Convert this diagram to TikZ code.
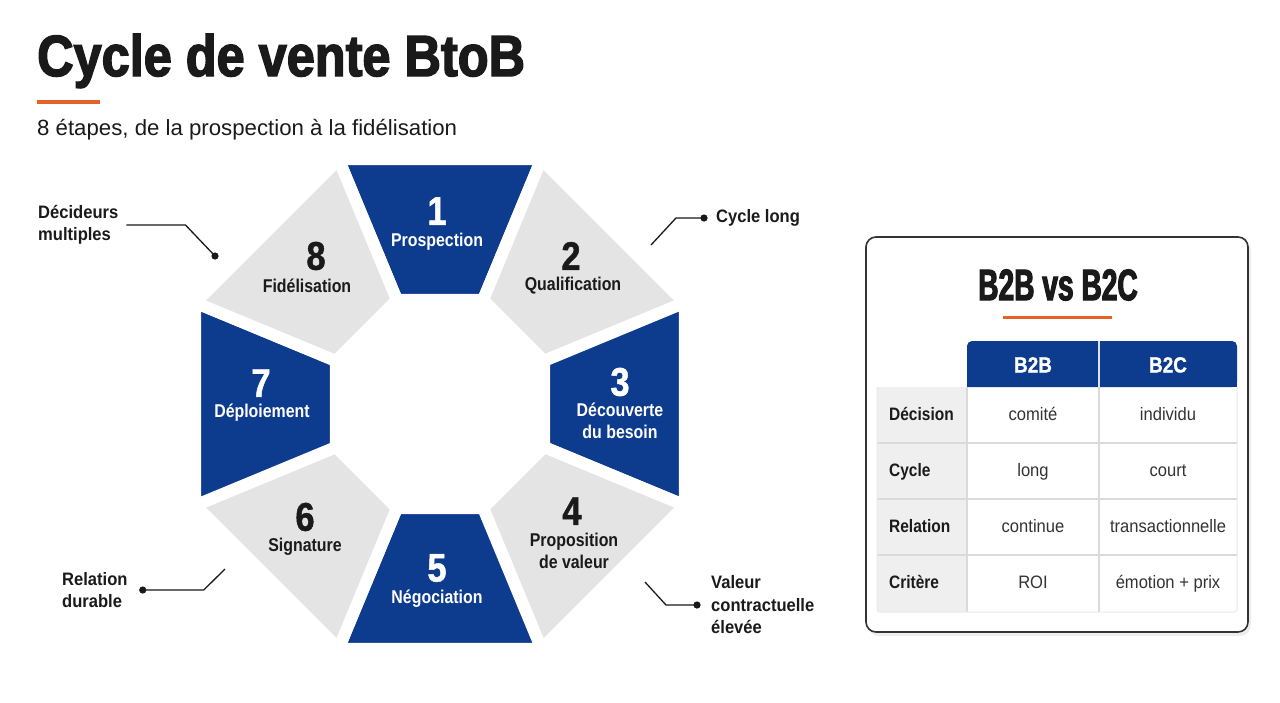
\documentclass[tikz,border=0pt]{standalone}
\usepackage{fontspec}
\setmainfont{Liberation Sans}
\newfontfamily\heavy[FakeStretch=0.87,FakeBold=2.5]{Liberation Sans}
\newfontfamily\heavyc[FakeStretch=0.64,FakeBold=2.5]{Liberation Sans}
\newfontfamily\cond[FakeStretch=0.86]{Liberation Sans}
\newfontfamily\condh[FakeStretch=0.86,FakeBold=1.2]{Liberation Sans}
\newfontfamily\reg[FakeStretch=0.92]{Liberation Sans}
\newfontfamily\subf[FakeStretch=1.01]{Liberation Sans}
\definecolor{navy}{HTML}{0D3B8D}
\definecolor{lgray}{HTML}{E4E4E4}
\definecolor{orng}{HTML}{E2642B}
\definecolor{ink}{HTML}{1A1A1A}
\definecolor{txt}{HTML}{333333}
\definecolor{grid}{HTML}{DADADA}
\definecolor{lab}{HTML}{EFEFEF}
\tikzset{
  seg/.style={fill=#1, draw=white, line width=12pt, rounded corners=2pt},
  num/.style={inner sep=0, font=\fontsize{40}{40}\selectfont\condh\bfseries, text=#1},
  slab/.style={inner sep=0, align=center, font=\fontsize{18.5}{22}\selectfont\cond\bfseries, text=#1},
  callout/.style={draw=ink, line width=1.3pt},
  dot/.style={fill=ink},
  note/.style={inner sep=0, anchor=west, align=left, text=ink, font=\fontsize{18}{22.5}\selectfont\reg\bfseries},
  rowlab/.style={inner sep=0, anchor=west, text height=13pt, text depth=4pt, text=ink, font=\fontsize{18}{20}\selectfont\cond\bfseries},
  cell/.style={inner sep=0, text height=13pt, text depth=4pt, text=txt, font=\fontsize{18}{20}\selectfont\reg},
  head/.style={inner sep=0, text height=15pt, text depth=0pt, text=white, font=\fontsize{22}{24}\selectfont\condh\bfseries}
}
\begin{document}
\begin{tikzpicture}[x=1pt,y=-1pt]
\useasboundingbox (0,0) rectangle (1280,702);
\fill[white] (0,0) rectangle (1280,702);

% Title
\node[anchor=base west, inner sep=0, text=ink] (title) at (37,76) {\fontsize{58}{60}\selectfont\heavy\bfseries Cycle de vente BtoB};
\fill[orng] (37,99.5) rectangle (100,103.5);
\node[anchor=base west, inner sep=0, text=ink] (sub) at (37,135) {\fontsize{22}{24}\selectfont\subf 8 étapes, de la prospection à la fidélisation};

% Octagon ring
\begin{scope}[shift={(440,404)}]
\foreach \ang/\col in {-90/navy, -45/lgray, 0/navy, 45/lgray, 90/navy, 135/lgray, 180/navy, 225/lgray}{
  \path[seg=\col] (\ang-22.5:265) -- (\ang+22.5:265) -- (\ang+22.5:112.6) -- (\ang-22.5:112.6) -- cycle;
}
\end{scope}

% Segment texts
\node[num=white] (n1) at (437,211) {1};
\node[slab=white] (l1) at (437,242) {Prospection};
\node[num=ink] (n2) at (571,256) {2};
\node[slab=ink] (l2) at (573,286) {Qualification};
\node[num=white] (n3) at (620,382) {3};
\node[slab=white] (l3) at (620,421) {Découverte\\du besoin};
\node[num=ink] (n4) at (572,511) {4};
\node[slab=ink] (l4) at (574,551) {Proposition\\de valeur};
\node[num=white] (n5) at (437,568) {5};
\node[slab=white] (l5) at (437,599) {Négociation};
\node[num=ink] (n6) at (305,517) {6};
\node[slab=ink] (l6) at (305,547) {Signature};
\node[num=white] (n7) at (261,383) {7};
\node[slab=white] (l7) at (262,413) {Déploiement};
\node[num=ink] (n8) at (316,256) {8};
\node[slab=ink] (l8) at (307,286) {Fidélisation};

% Callouts
\node[note] (dec) at (38,225) {Décideurs\\multiples};
\coordinate (d1) at (215,256);
\draw[callout] ([xshift=8pt]dec.east) -- ++(59,0) -- (d1);
\fill[dot] (d1) circle (3.6);

\node[note] (cyc) at (716,218) {Cycle long};
\coordinate (c1) at ([xshift=-12pt]cyc.west);
\coordinate (e2) at (651,245);
\draw[callout] (c1) -- ++(-28,0) -- (e2);
\fill[dot] (c1) circle (3.6);

\node[note] (rel) at (62,590) {Relation\\durable};
\coordinate (r1) at ([xshift=15pt]rel.east);
\coordinate (e3) at (225,569);
\draw[callout] (r1) -- ++(61,0) -- (e3);
\fill[dot] (r1) circle (3.6);

\node[note] (val) at (711,605) {Valeur\\contractuelle\\élevée};
\coordinate (v1) at ([xshift=-14pt]val.west);
\coordinate (e4) at (645,582);
\draw[callout] (v1) -- ++(-31,0) -- (e4);
\fill[dot] (v1) circle (3.6);

% Card
\fill[black!7, rounded corners=11pt] (868,240) rectangle (1251,636);
\draw[draw=black!80, line width=1.6pt, fill=white, rounded corners=10pt] (866,237) rectangle (1248,632);
\node[inner sep=0, text=ink] (ctitle) at (1058,285) {\fontsize{44}{46}\selectfont\heavyc\bfseries B2B vs B2C};
\fill[orng] (1003,315.5) rectangle (1112,318.5);

% Table
\fill[lab] (877,387) rectangle (967,612);
\fill[white] (967,387) rectangle (1237,612);
\fill[navy] (967,387) [rounded corners=5pt] -- (967,341) -- (1237,341) -- (1237,387) [sharp corners] -- cycle;
\fill[navy] (967,370) rectangle (1237,387);
\draw[white!85!navy, line width=1.5pt] (1099,341) -- (1099,387);
\foreach \yy in {443,499,555}{\draw[grid, line width=1.3pt] (877,\yy) -- (1237,\yy);}
\draw[grid, line width=1.3pt] (967,387) -- (967,612);
\draw[grid, line width=1.3pt] (1099,387) -- (1099,612);
\draw[grid!60, line width=1pt, rounded corners=3pt] (877,387) -- (877,612) -- (1237,612) -- (1237,387);

\node[head] (h1) at (1033,365) {B2B};
\node[head] (h2) at (1168,365) {B2C};

\node[rowlab] (r1l) at (889,416) {Décision};
\node[cell] (r1a) at (1033,416) {comité};
\node[cell] (r1b) at (1168,416) {individu};
\node[rowlab] (r2l) at (889,472) {Cycle};
\node[cell] (r2a) at (1033,472) {long};
\node[cell] (r2b) at (1168,472) {court};
\node[rowlab] (r3l) at (889,528) {Relation};
\node[cell] (r3a) at (1033,528) {continue};
\node[cell] (r3b) at (1168,528) {transactionnelle};
\node[rowlab] (r4l) at (889,584) {Critère};
\node[cell] (r4a) at (1033,584) {ROI};
\node[cell] (r4b) at (1168,584) {émotion + prix};
\end{tikzpicture}
\end{document}
